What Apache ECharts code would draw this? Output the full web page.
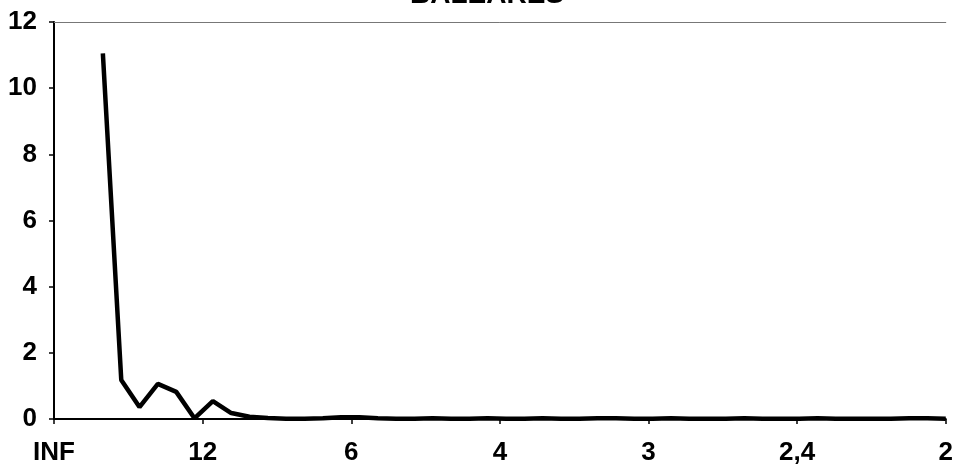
<!DOCTYPE html>
<html>
<head>
<meta charset="utf-8">
<script src="https://cdn.jsdelivr.net/npm/echarts@6/dist/echarts.min.js"></script>
<style>
  html, body { margin: 0; padding: 0; background: #fff; }
  #chart { width: 956px; height: 472px; }
</style>
</head>
<body>
<div id="chart"></div>
<script>
// periodo en el eje x (frecuencia en 1/96)
var periodLabels = ['INF', '12', '6', '4', '3', '2,4', '2'];
var freqX = [2.63, 3.62, 4.60, 5.59, 6.58, 7.56, 8.55, 9.54, 10.52, 11.51,
  12.49, 13.48, 14.47, 15.45, 16.44, 17.43, 18.41, 19.40, 20.38, 21.37,
  22.36, 23.34, 24.33, 25.32, 26.30, 27.29, 28.27, 29.26, 30.25, 31.23,
  32.22, 33.21, 34.19, 35.18, 36.16, 37.15, 38.14, 39.12, 40.11, 41.10,
  42.08, 43.07, 44.05, 45.04, 46.03, 47.01, 48.00];
var periodogram = [11.05, 1.18, 0.36, 1.06, 0.82, 0.02, 0.54, 0.18, 0.07, 0.03,
  0.01, 0.01, 0.02, 0.05, 0.05, 0.02, 0.01, 0.01, 0.02, 0.01,
  0.01, 0.02, 0.01, 0.01, 0.02, 0.01, 0.01, 0.02, 0.02, 0.01,
  0.01, 0.02, 0.01, 0.01, 0.01, 0.02, 0.01, 0.01, 0.01, 0.02,
  0.01, 0.01, 0.01, 0.01, 0.02, 0.02, 0.01];

var chart = echarts.init(document.getElementById('chart'));
var labelFont = { color: '#000', fontSize: 26, fontWeight: 'bold', fontFamily: 'Liberation Sans, Arial, sans-serif' };

chart.setOption({
  animation: false,
  title: {
    text: 'BALEARES',
    left: 405,
    top: -24,
    textStyle: { color: '#000', fontSize: 28, fontWeight: 'bold', fontFamily: 'Liberation Sans, Arial, sans-serif' }
  },
  grid: { left: 54, right: 8, top: 22, bottom: 53 },
  xAxis: [{
    type: 'value',
    min: 0,
    max: 48,
    interval: 8,
    axisLine: { show: true, lineStyle: { color: '#000', width: 2 } },
    axisTick: { show: true, length: 5, lineStyle: { color: '#000', width: 1.5 } },
    axisLabel: Object.assign({
      margin: 21,
      formatter: function (v) { return periodLabels[Math.round(v / 8)]; }
    }, labelFont),
    splitLine: { show: false }
  }, {
    type: 'value',
    position: 'top',
    min: 0,
    max: 48,
    axisLine: { show: true, onZero: false, lineStyle: { color: '#777', width: 1 } },
    axisTick: { show: false },
    axisLabel: { show: false },
    splitLine: { show: false }
  }],
  yAxis: {
    type: 'value',
    min: 0,
    max: 12,
    interval: 2,
    axisLine: { show: true, lineStyle: { color: '#000', width: 2 } },
    axisTick: { show: true, length: 5, lineStyle: { color: '#000', width: 1.5 } },
    axisLabel: Object.assign({ margin: 17 }, labelFont),
    splitLine: { show: false }
  },
  series: [{
    type: 'line',
    showSymbol: false,
    data: freqX.map(function (x, i) { return [x, periodogram[i]]; }),
    lineStyle: { color: '#000', width: 4.5 },
    clip: false
  }]
});
</script>
</body>
</html>
